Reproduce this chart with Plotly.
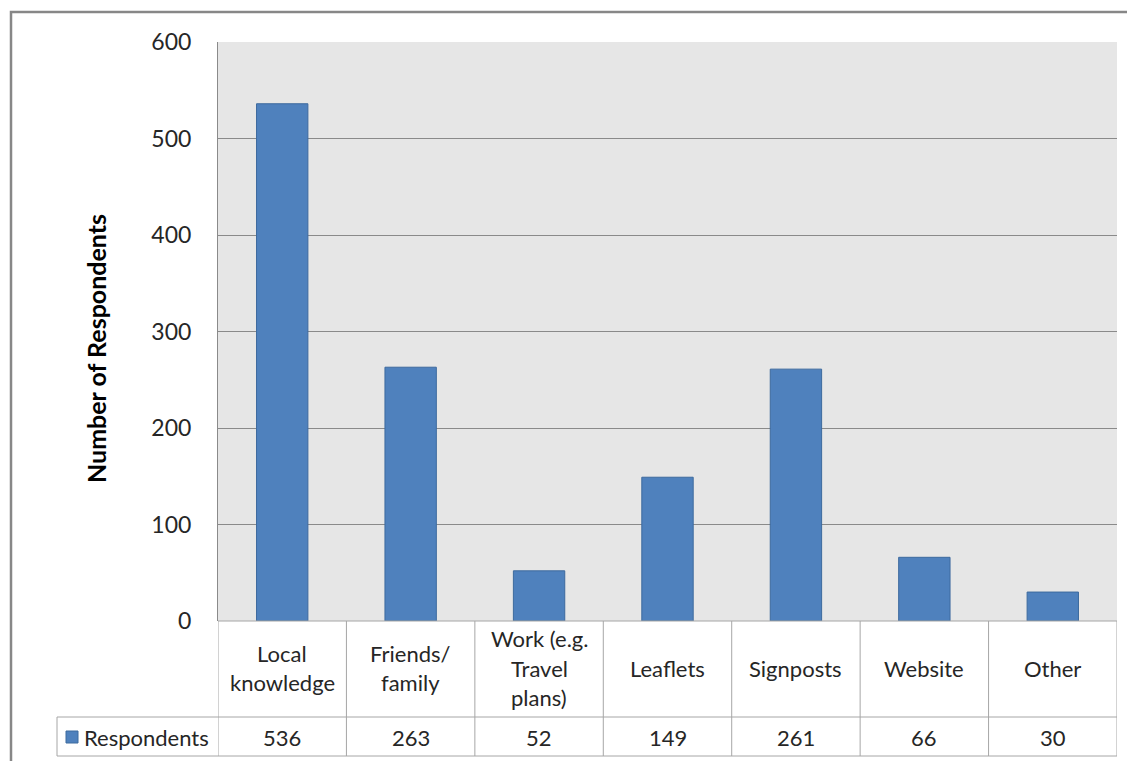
import plotly.graph_objects as go

categories = ["Local knowledge", "Friends/ family", "Work (e.g. Travel plans)",
              "Leaflets", "Signposts", "Website", "Other"]
category_lines = [["Local", "knowledge"], ["Friends/", "family"],
                  ["Work (e.g.", "Travel", "plans)"], ["Leaflets"], ["Signposts"],
                  ["Website"], ["Other"]]
respondents = [536, 263, 52, 149, 261, 66, 30]
series_name = "Respondents"
y_ticks = [0, 100, 200, 300, 400, 500, 600]

# page body has an 8px default margin; compensate so the picture lines up
OFF = 8
W, H = 1135 - OFF, 761 - OFF
L, R, T, B = 218 - OFF, 18, 42 - OFF, 140
PW, PH = W - L - R, H - T - B

def px_x(p):
    return (p - OFF - L) / PW

def px_y(p):
    return (H - B - (p - OFF)) / PH

FONT = "Lato, 'Open Sans', sans-serif"
TXT = "#262626"
GRID = "#8a8a8a"
TAB = "#a6a6a6"
BAR = "#4f81bd"

fig = go.Figure()
xs = list(range(len(categories)))
fig.add_trace(go.Bar(x=xs, y=respondents, name=series_name,
                     marker=dict(color=BAR, line=dict(color="#3d6a9e", width=1)),
                     width=0.4, showlegend=False))

shapes = []
# outer border
shapes.append(dict(type="rect", xref="paper", yref="paper",
                   x0=px_x(11), x1=px_x(1150), y0=px_y(790), y1=px_y(12),
                   line=dict(color="#878787", width=2.5), fillcolor="rgba(0,0,0,0)"))
n = len(categories)
# table horizontal lines
for ypx, x0 in [(621, 218), (717, 57), (756, 57)]:
    shapes.append(dict(type="line", xref="paper", yref="paper",
                       x0=px_x(x0), x1=1, y0=px_y(ypx), y1=px_y(ypx),
                       line=dict(color=TAB, width=1)))
# vertical column boundaries
for i in range(n + 1):
    shapes.append(dict(type="line", xref="x", yref="paper",
                       x0=i - 0.5, x1=i - 0.5, y0=px_y(621), y1=px_y(756),
                       line=dict(color=TAB, width=1)))
shapes.append(dict(type="line", xref="paper", yref="paper",
                   x0=px_x(57), x1=px_x(57), y0=px_y(717), y1=px_y(756),
                   line=dict(color=TAB, width=1)))
# legend key
shapes.append(dict(type="rect", xref="paper", yref="paper",
                   x0=px_x(66), x1=px_x(78), y0=px_y(743), y1=px_y(731),
                   fillcolor=BAR, line=dict(color="#3d6a9e", width=1)))

annotations = []
for i, (lines, v) in enumerate(zip(category_lines, respondents)):
    k = len(lines)
    center = 668
    spacing = 29.5
    for j, ln in enumerate(lines):
        ypx = center + (j - (k - 1) / 2) * spacing
        annotations.append(dict(x=i, xref="x", y=px_y(ypx), yref="paper",
                                text=ln, showarrow=False, xanchor="center",
                                yanchor="middle",
                                font=dict(size=22, color=TXT, family=FONT)))
    annotations.append(dict(x=i, xref="x", y=px_y(737), yref="paper",
                            text=str(v), showarrow=False, xanchor="center",
                            yanchor="middle",
                            font=dict(size=22, color=TXT, family=FONT)))
annotations.append(dict(x=px_x(82), xref="paper", y=px_y(737), yref="paper",
                        text=series_name, showarrow=False, xanchor="left",
                        yanchor="middle",
                        font=dict(size=22, color=TXT, family=FONT)))
annotations.append(dict(x=px_x(96), xref="paper", y=px_y(348), yref="paper",
                        text="<b>Number of Respondents</b>", textangle=-90,
                        showarrow=False, xanchor="center", yanchor="middle",
                        font=dict(size=25, color="#000000", family=FONT)))

fig.update_layout(
    width=W, height=H,
    margin=dict(l=L, r=R, t=T, b=B, pad=0),
    paper_bgcolor="white", plot_bgcolor="#e6e6e6",
    shapes=shapes, annotations=annotations,
    bargap=0.6,
    xaxis=dict(range=[-0.5, n - 0.5], showticklabels=False, showgrid=False,
               zeroline=False, showline=False, ticks=""),
    yaxis=dict(range=[0, 600], tickvals=y_ticks, showgrid=True, gridcolor=GRID,
               gridwidth=1, zeroline=False, showline=True, linecolor=GRID,
               linewidth=1, ticks="", ticklabelstandoff=21,
               tickfont=dict(size=23, color=TXT, family=FONT)),
)

fig.write_html("out.html")
